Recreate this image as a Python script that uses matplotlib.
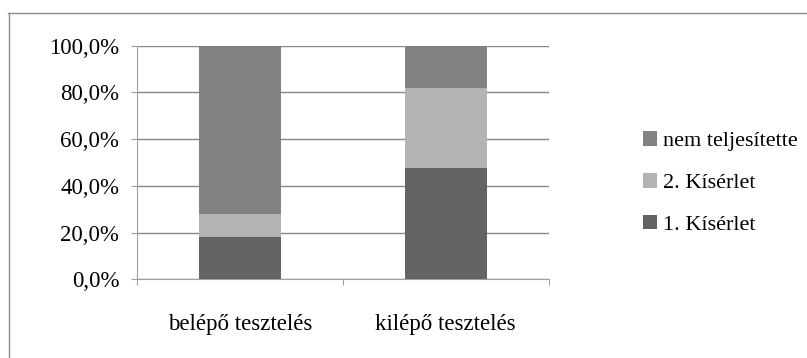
import matplotlib
matplotlib.use("Agg")
import matplotlib.pyplot as plt
from matplotlib.lines import Line2D
from matplotlib.patches import Patch

categories = ["belépő tesztelés", "kilépő tesztelés"]
series_names = ["1. Kísérlet", "2. Kísérlet", "nem teljesítette"]
kiserlet1 = [18.0, 47.8]
kiserlet2 = [10.1, 34.2]
nem_teljesitette = [71.9, 18.0]
series_values = [kiserlet1, kiserlet2, nem_teljesitette]
colors = ["#636363", "#b3b3b3", "#828282"]
y_ticks = [0, 20, 40, 60, 80, 100]
y_tick_labels = ["0,0%", "20,0%", "40,0%", "60,0%", "80,0%", "100,0%"]

plt.rcParams["font.family"] = ["Liberation Serif", "DejaVu Serif"]
FS = 16.5

fig = plt.figure(figsize=(8.07, 3.58), dpi=100)
ax = fig.add_axes([0.1694, 0.2198, 0.5106, 0.6525])

x = list(range(len(categories)))
bottom = [0.0] * len(categories)
for name, vals, c in zip(series_names, series_values, colors):
    ax.bar(x, vals, width=0.4, bottom=bottom, color=c, label=name, zorder=3)
    bottom = [b + v for b, v in zip(bottom, vals)]

ax.set_xlim(-0.5, len(categories) - 0.5)
ax.set_ylim(0, 100)
ax.set_yticks(y_ticks)
ax.set_yticklabels(y_tick_labels, fontsize=FS)
ax.yaxis.grid(True, color="#878787", linewidth=1.0, zorder=0)

ax.set_xticks([i - 0.5 for i in range(len(categories) + 1)])
ax.set_xticklabels([])
ax.set_xticks(x, minor=True)
ax.set_xticklabels(categories, minor=True, fontsize=FS)
ax.tick_params(axis="x", which="minor", length=0, pad=25)
ax.tick_params(axis="x", which="major", length=4.5, color="#a0a0a0", direction="out")
ax.tick_params(axis="y", length=4.5, color="#a0a0a0", direction="out", pad=8)

for s in ["top", "right"]:
    ax.spines[s].set_visible(False)
for s in ["left", "bottom"]:
    ax.spines[s].set_color("#a0a0a0")

handles = [Patch(facecolor=c, edgecolor="none") for c in colors][::-1]
labels = series_names[::-1]
leg = fig.legend(handles, labels, loc="center left", bbox_to_anchor=(0.772, 0.489),
                 frameon=False, fontsize=16, handlelength=0.65, handleheight=0.65,
                 handletextpad=0.27, labelspacing=0.97)

# outer chart frame
fig.add_artist(Line2D([8 / 807, 1.0], [1 - 12.5 / 358] * 2, transform=fig.transFigure,
                      color="#8c8c8c", linewidth=1.0))
fig.add_artist(Line2D([8.5 / 807] * 2, [0.0, 1 - 12.5 / 358], transform=fig.transFigure,
                      color="#8c8c8c", linewidth=1.0))

fig.savefig("out.png", dpi=100)
